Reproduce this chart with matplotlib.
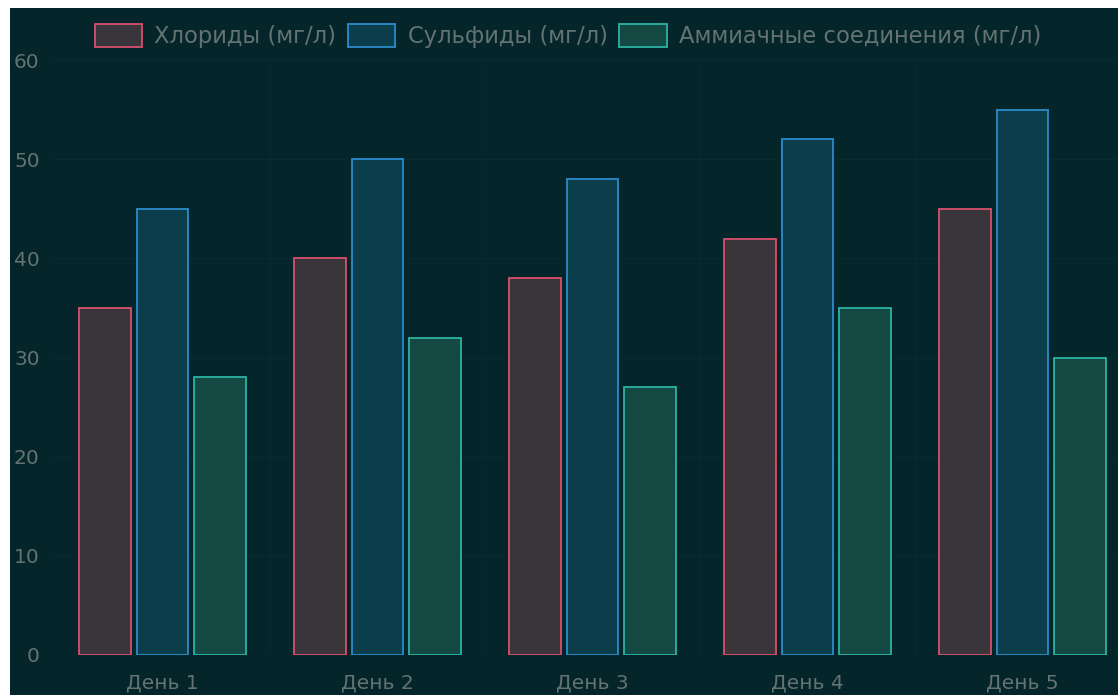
import matplotlib
matplotlib.use("Agg")
import matplotlib.pyplot as plt
from matplotlib.patches import Rectangle, Patch
import numpy as np

categories = ["День 1", "День 2", "День 3", "День 4", "День 5"]
series_names = ["Хлориды (мг/л)", "Сульфиды (мг/л)", "Аммиачные соединения (мг/л)"]
chlorides = [35, 40, 38, 42, 45]
sulfides = [45, 50, 48, 52, 55]
ammonia = [28, 32, 27, 35, 30]
y_ticks = [0, 10, 20, 30, 40, 50, 60]

edge_colors = ["#d9506e", "#2b8ccb", "#2db3a4"]
fill_colors = ["#3a353b", "#0b3d4b", "#144843"]
bg = "#04262a"
text_color = "#647272"

plt.rcParams['font.family'] = ['DejaVu Sans']

W, H = 1118, 695
fig = plt.figure(figsize=(W / 100, H / 100), dpi=100, facecolor="white")
fig.patches.append(Rectangle((10 / W, 0), 1, 1 - 8 / H, transform=fig.transFigure,
                             facecolor=bg, edgecolor="none", zorder=-10))

left, right = 55 / W, 1130 / W
bottom, top = 1 - 655 / H, 1 - 60 / H
ax = fig.add_axes([left, bottom, right - left, top - bottom])
ax.set_facecolor(bg)
ax.patch.set_alpha(0)

x = np.arange(len(categories))
group = 0.8
bw = group / 3 * 0.9
data = [chlorides, sulfides, ammonia]
for i, vals in enumerate(data):
    offs = (i - 1) * group / 3
    ax.bar(x + offs, vals, width=bw, color=fill_colors[i], edgecolor=edge_colors[i],
           linewidth=1.3, zorder=3, label=series_names[i])

ax.set_xlim(-0.5, len(categories) - 0.5)
ax.set_ylim(0, 60)
ax.set_yticks(y_ticks)
ax.set_xticks(x)
ax.set_xticklabels(categories)
ax.tick_params(axis='both', length=0, colors=text_color, labelsize=14.5)
ax.tick_params(axis='x', pad=13)
ax.tick_params(axis='y', pad=11)
for s in ax.spines.values():
    s.set_visible(False)
ax.grid(axis='y', color="#ffffff", alpha=0.025, linewidth=1, zorder=0)
for b in np.arange(0.5, len(categories) - 0.5, 1):
    ax.axvline(b, color="#ffffff", alpha=0.018, linewidth=1, zorder=0)

handles = [Patch(facecolor=fill_colors[i], edgecolor=edge_colors[i], linewidth=1.3)
           for i in range(3)]
fig.legend(handles, series_names, loc='center', bbox_to_anchor=(568 / W, 1 - 36 / H),
           ncol=3, frameon=False, fontsize=16.3, labelcolor=text_color,
           handlelength=2.1, handleheight=1.2, handletextpad=0.55, columnspacing=0.5)

fig.savefig("out.png", dpi=100, facecolor=fig.get_facecolor())
